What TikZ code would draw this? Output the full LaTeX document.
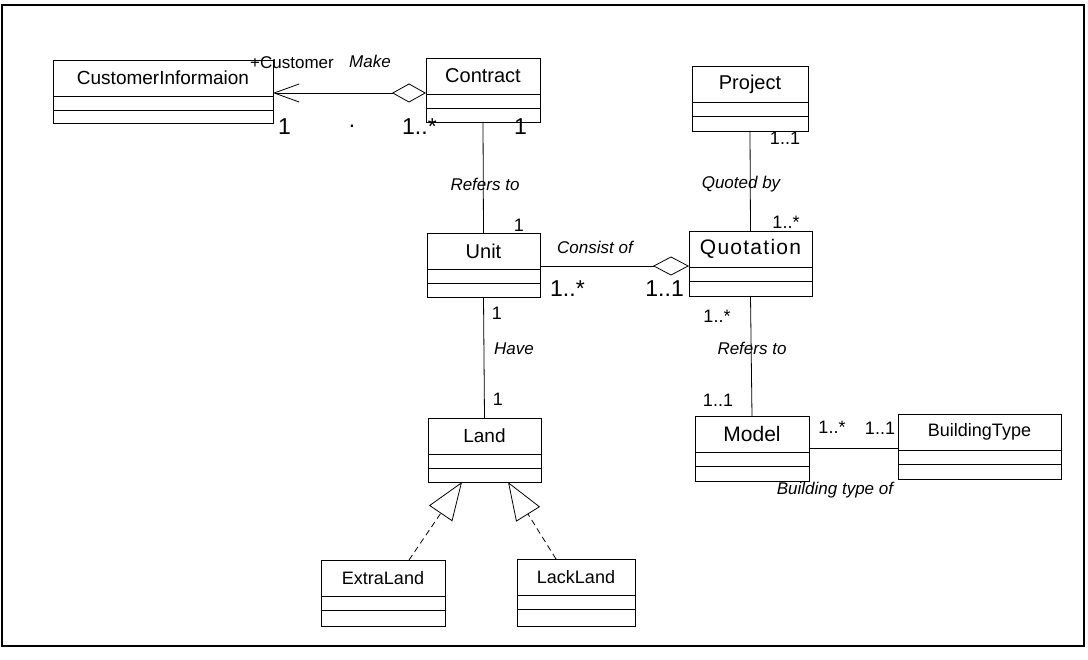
\documentclass[tikz,border=0pt]{standalone}
\usepackage{fontspec}
\setmainfont{Liberation Sans}
\usetikzlibrary{arrows.meta}

% a UML class: name, left x, top y, width, height, title
\newcommand\umlclass[6]{%
  \node[clsbox, minimum width=#4pt, minimum height=#5pt] (#1) at (#2,#3) {};
  \node[clsname] (#1-name) at ([yshift=-18pt]#1.north) {#6};
  \draw[clsline] ([yshift=-36pt]#1.north west) -- ([yshift=-36pt]#1.north east);
  \draw[clsline] ([yshift=-50pt]#1.north west) -- ([yshift=-50pt]#1.north east);
}

\tikzset{
  clsbox/.style={draw, line width=0.8pt, inner sep=0pt, outer sep=0pt, anchor=north west},
  clsname/.style={inner sep=0pt, font=\fontsize{20}{24}\selectfont},
  clsline/.style={line width=0.7pt},
  lbl/.style={inner sep=0pt, font=\fontsize{17}{20}\selectfont\itshape},
  mult/.style={inner sep=0pt, font=\fontsize{18}{21}\selectfont},
  bigmult/.style={inner sep=0pt, font=\fontsize{23}{27}\selectfont},
  assoc/.style={line width=0.8pt},
  aggrstart/.style={assoc, {Diamond[open, length=34pt, width=19pt, line width=0.8pt]}-{Straight Barb[length=25pt, width=18pt, line width=0.8pt]}},
  aggrend/.style={assoc, -{Diamond[open, length=36pt, width=19pt, line width=0.8pt]}},
  realize/.style={line width=0.8pt, dash pattern=on 6pt off 4pt, -{Triangle[open, length=38pt, width=28pt, line width=0.8pt]}},
}

\begin{document}
\begin{tikzpicture}[x=1pt, y=-1pt]
\useasboundingbox (0,0) rectangle (1088,660);
\fill[white] (0,0) rectangle (1088,660);

% outer frame
\draw[line width=2.5pt] (2,5) rectangle (1084,646);

% classes
\umlclass{cust}{53}{60}{220}{63}{\fontsize{19}{22}\selectfont CustomerInformaion}
\umlclass{contract}{426}{58}{114}{64}{Contract}
\umlclass{project}{692}{66}{116}{65}{Project}
\umlclass{unit}{427}{233}{113}{64}{Unit}
\umlclass{quot}{689}{231}{123}{65}{\fontsize{21}{24}\selectfont\addfontfeature{LetterSpace=6}Quotation}
\umlclass{land}{428}{418}{113}{64}{\fontsize{19}{22}\selectfont Land}
\umlclass{model}{695}{416}{114}{65}{\fontsize{21}{24}\selectfont Model}
\umlclass{btype}{898}{414}{163}{65}{\fontsize{18}{21}\selectfont BuildingType}
\umlclass{extra}{321}{560}{124}{66}{\fontsize{18}{21}\selectfont ExtraLand}
\umlclass{lack}{517}{559}{118}{67}{\fontsize{18}{21}\selectfont LackLand}

% Contract makes CustomerInformaion
\path ([yshift=-35pt]contract.north west) coordinate (ca);
\draw[aggrstart] (ca) -- (cust.east |- ca);
\node[mult, font=\fontsize{17}{20}\selectfont] (custrole) at (292,63) {+Customer};
\node[lbl] (make) at (370,61) {Make};
\node[bigmult, anchor=base west] (m1) at (278,135) {1};
\node[bigmult] (mdot) at (352,126) {.};
\node[bigmult, anchor=base west] (m2) at (402,135) {1..*};
\node[bigmult, anchor=base west] (m3) at (514,135) {1};

% Contract refers to Unit
\draw[assoc] (contract.south) -- (unit.north);
\node[lbl] (refers1) at (485,184) {Refers to};
\node[mult] (m4) at (519,225) {1};

% Project quotes Quotation
\draw[assoc] (project.south) -- (quot.north);
\node[mult] (m5) at (785,138) {1..1};
\node[lbl] (quoted) at (741,184) {Quoted by};
\node[mult] (m6) at (786,222) {1..*};

% Quotation consists of Units
\path ([yshift=-35pt]quot.north west) coordinate (qa);
\draw[aggrend] (unit.east |- qa) -- (qa);
\node[lbl] (consist) at (595,247) {Consist of};
\node[bigmult, anchor=base west] (m7) at (550,297) {1..*};
\node[bigmult, anchor=base east] (m8) at (684,297) {1..1};

% Unit has Land
\draw[assoc] (unit.south) -- (land.north);
\node[mult] (m9) at (497,313) {1};
\node[lbl] (have) at (514,349) {Have};
\node[mult] (m10) at (498,399) {1};

% Quotation refers to Model
\draw[assoc] (quot.south) -- (model.north);
\node[mult] (m11) at (717,316) {1..*};
\node[lbl] (refers2) at (752,348) {Refers to};
\node[mult] (m12) at (718,400) {1..1};

% Model to BuildingType
\path ([yshift=-32pt]model.north east) coordinate (mb);
\draw[assoc] (mb) -- (btype.west |- mb);
\node[mult] (m13) at (832,427) {1..*};
\node[mult] (m14) at (880,428) {1..1};
\node[lbl] (btof) at (835,490) {Building type of};

% Land realizations
\draw[realize] ([xshift=88pt]extra.north west) -- ([xshift=34pt]land.south west);
\draw[realize] ([xshift=39pt]lack.north west) -- ([xshift=80pt]land.south west);
\end{tikzpicture}
\end{document}
